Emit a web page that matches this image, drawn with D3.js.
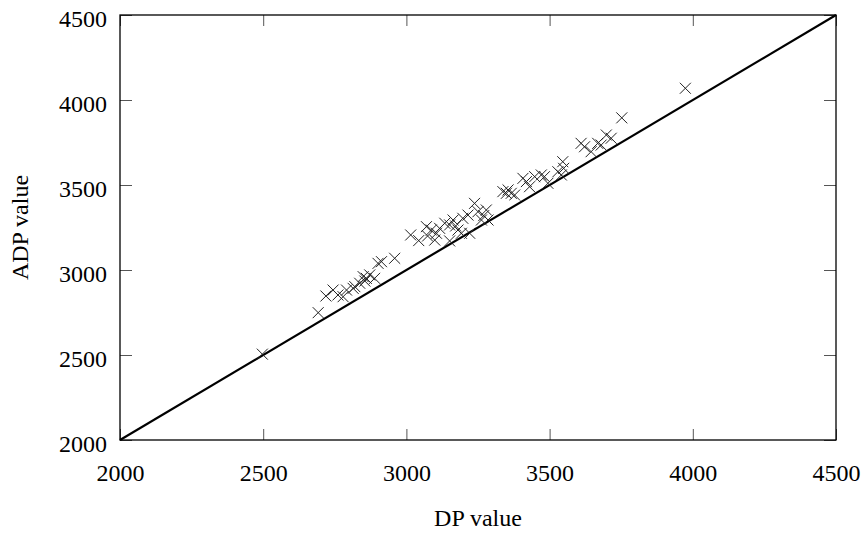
<!DOCTYPE html>
<html>
<head>
<meta charset="utf-8">
<script src="https://cdn.jsdelivr.net/npm/d3@7"></script>
<style>
  body { margin: 0; background: #fff; }
  text { font-family: "Liberation Serif", "Times New Roman", serif; }
</style>
</head>
<body>
<svg id="chart" width="867" height="536"></svg>
<script>
// DP value (x) and ADP value (y)
var dpValues = [2497, 2692, 2719, 2744, 2761, 2779, 2791, 2814, 2820, 2837,
  2849, 2855, 2860, 2872, 2889, 2901, 2913, 2959, 3015, 3043,
  3070, 3074, 3087, 3099, 3105, 3116, 3134, 3151, 3151, 3163,
  3172, 3180, 3192, 3197, 3215, 3221, 3238, 3250, 3262, 3279,
  3285, 3270, 3337, 3349, 3355, 3366, 3378, 3407, 3419, 3430,
  3448, 3471, 3482, 3494, 3529, 3541, 3546, 3549, 3610, 3622,
  3645, 3668, 3680, 3698, 3715, 3752, 3974];
var adpValues = [2505, 2749, 2847, 2882, 2853, 2843, 2882, 2892, 2902, 2922,
  2961, 2935, 2951, 2971, 2951, 3039, 3049, 3069, 3206, 3173,
  3255, 3200, 3235, 3176, 3216, 3245, 3275, 3265, 3171, 3294,
  3259, 3235, 3216, 3304, 3323, 3216, 3392, 3343, 3294, 3353,
  3294, 3320, 3461, 3451, 3471, 3451, 3441, 3539, 3520, 3490,
  3549, 3559, 3549, 3510, 3578, 3559, 3637, 3598, 3745, 3725,
  3696, 3745, 3735, 3794, 3775, 3895, 4069];
var tickValues = [2000, 2500, 3000, 3500, 4000, 4500];
var axisRange = [2000, 4500];

var svg = d3.select('#chart');
var plotLeft = 120, plotRight = 836, plotTop = 15, plotBottom = 440;

var x = d3.scaleLinear().domain(axisRange).range([plotLeft, plotRight]);
var y = d3.scaleLinear().domain(axisRange).range([plotBottom, plotTop]);

// inward ticks on all four sides
function styleAxis(g) {
  g.select('.domain').remove();
  g.selectAll('.tick line').attr('stroke', '#555').attr('stroke-width', 1);
  g.selectAll('text').attr('fill', '#000').style('font-size', '24px')
    .style('font-family', '"Liberation Serif", "Times New Roman", serif');
}

svg.append('g')
  .attr('transform', 'translate(0,' + plotBottom + ')')
  .call(d3.axisBottom(x).tickValues(tickValues).tickFormat(d3.format('d'))
    .tickSize(-11).tickPadding(24))
  .call(styleAxis);

svg.append('g')
  .attr('transform', 'translate(0,' + plotTop + ')')
  .call(d3.axisTop(x).tickValues(tickValues).tickSize(-11).tickFormat(''))
  .call(styleAxis);

svg.append('g')
  .attr('transform', 'translate(' + plotLeft + ',0)')
  .call(d3.axisLeft(y).tickValues(tickValues).tickFormat(d3.format('d'))
    .tickSize(-12).tickPadding(13))
  .call(styleAxis)
  .selectAll('text').attr('dy', '0.46em');

svg.append('g')
  .attr('transform', 'translate(' + plotRight + ',0)')
  .call(d3.axisRight(y).tickValues(tickValues).tickSize(-12).tickFormat(''))
  .call(styleAxis);

// diagonal y = x
svg.append('line')
  .attr('x1', x(axisRange[0])).attr('y1', y(axisRange[0]))
  .attr('x2', x(axisRange[1])).attr('y2', y(axisRange[1]))
  .attr('stroke', '#000')
  .attr('stroke-width', 2.2);

// points
svg.append('g')
  .selectAll('path')
  .data(dpValues)
  .enter()
  .append('path')
  .attr('transform', function(d, i) {
    return 'translate(' + x(d) + ',' + y(adpValues[i]) + ')';
  })
  .attr('d', 'M-5.5,-5.5L5.5,5.5M-5.5,5.5L5.5,-5.5')
  .attr('fill', 'none')
  .attr('stroke', '#222')
  .attr('stroke-width', 1);

// frame
svg.append('rect')
  .attr('x', plotLeft).attr('y', plotTop)
  .attr('width', plotRight - plotLeft).attr('height', plotBottom - plotTop)
  .attr('fill', 'none')
  .attr('stroke', '#000')
  .attr('stroke-width', 1.3);

// axis titles
svg.append('text')
  .attr('x', (plotLeft + plotRight) / 2)
  .attr('y', 526)
  .attr('text-anchor', 'middle')
  .style('font-size', '24px')
  .text('DP value');

svg.append('text')
  .attr('transform', 'translate(28,' + (plotTop + plotBottom) / 2 + ') rotate(-90)')
  .attr('text-anchor', 'middle')
  .style('font-size', '24px')
  .text('ADP value');
</script>
</body>
</html>
